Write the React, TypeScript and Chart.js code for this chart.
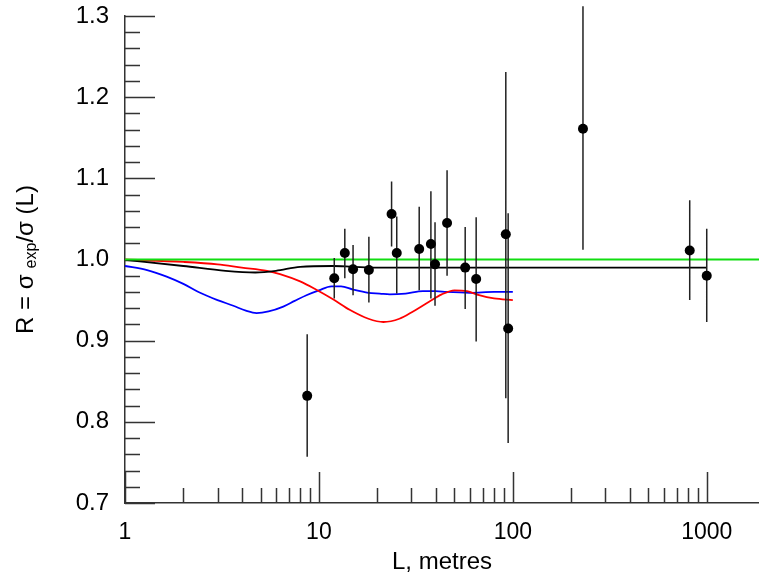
import React, { useEffect, useRef } from 'react';
import { Chart, registerables } from 'chart.js';

Chart.register(...registerables);

// ---- axis ranges / tick labels ----
const xMin = 1;
const xMax = 1860;
const yMin = 0.7;
const yMax = 1.3;
const xTickLabels = [1, 10, 100, 1000];
const yTickLabels = [0.7, 0.8, 0.9, 1.0, 1.1, 1.2, 1.3];

// ---- measured points with error bars ----
const pointX = [8.7, 12.0, 13.6, 15.0, 18.1, 23.7, 25.2, 32.9, 37.8, 39.7, 45.8, 56.8, 64.7, 92, 94.6, 230, 817, 1000];
const pointY = [0.832, 0.977, 1.008, 0.988, 0.987, 1.056, 1.008, 1.013, 1.019, 0.994, 1.045, 0.990, 0.976, 1.031, 0.915, 1.161, 1.011, 0.980];
const pointLow = [0.757, 0.952, 0.977, 0.956, 0.947, 1.016, 0.958, 0.962, 0.952, 0.943, 0.980, 0.939, 0.899, 0.829, 0.774, 1.012, 0.950, 0.923];
const pointHigh = [0.908, 1.002, 1.038, 1.018, 1.028, 1.096, 1.053, 1.065, 1.084, 1.046, 1.110, 1.040, 1.052, 1.231, 1.057, 1.312, 1.073, 1.038];

// ---- curves ----
const greenX = [1, 1860];
const greenY = [1.0, 1.0];

const blackX = [1, 2, 3.3, 4.7, 6, 8, 11.8, 15, 20, 30, 50, 100, 200, 500, 1000];
const blackY = [0.9995, 0.992, 0.986, 0.984, 0.986, 0.991, 0.992, 0.991, 0.990, 0.990, 0.990, 0.990, 0.990, 0.990, 0.990];

const redX = [1, 2, 3, 4, 5.4, 6.3, 8, 9.5, 12, 14.4, 18, 21.5, 26, 30.6, 37, 43, 50, 58, 67, 80, 100];
const redY = [1.0, 0.997, 0.994, 0.990, 0.986, 0.982, 0.973, 0.964, 0.950, 0.938, 0.927, 0.923, 0.927, 0.936, 0.948, 0.957, 0.962, 0.961, 0.956, 0.952, 0.950];

const blueX = [1, 1.3, 1.64, 2, 2.44, 3, 3.62, 4.2, 4.77, 5.5, 6.55, 7.5, 8.62, 10, 11.6, 13, 15, 18, 20.6, 23.2, 28, 34.4, 40, 45.5, 60, 80, 100];
const blueY = [0.992, 0.987, 0.979, 0.970, 0.959, 0.950, 0.943, 0.937, 0.934, 0.936, 0.942, 0.949, 0.956, 0.962, 0.967, 0.967, 0.963, 0.959, 0.958, 0.957, 0.958, 0.961, 0.961, 0.960, 0.959, 0.960, 0.960];

const xTitle = 'L, metres';
const yTitleA = 'R = σ';
const yTitleSub = 'exp';
const yTitleB = '/σ (L)';

const FONT = "'Liberation Sans', Arial, Helvetica, sans-serif";
const AXIS_COLOR = '#333';

function pts(xs: number[], ys: number[]) {
  return xs.map((x, i) => ({ x, y: ys[i] }));
}

const inwardTicks = {
  id: 'inwardTicks',
  beforeDatasetsDraw(chart: any) {
    const { ctx, chartArea, scales } = chart;
    const xs = scales.x;
    const ys = scales.y;
    ctx.save();
    ctx.strokeStyle = AXIS_COLOR;
    ctx.lineWidth = 1.5;
    ctx.beginPath();
    for (let dec = 1; dec <= 1000; dec *= 10) {
      for (let m = 1; m <= 9; m++) {
        const v = m * dec;
        if (v < xMin || v > xMax) continue;
        const px = Math.round(xs.getPixelForValue(v)) + 0.5;
        const len = m === 1 ? 31 : 15;
        ctx.moveTo(px, chartArea.bottom);
        ctx.lineTo(px, chartArea.bottom - len);
      }
    }
    for (let k = 0; k <= 30; k++) {
      const v = yMin + k * 0.02;
      const py = Math.round(ys.getPixelForValue(v)) + 0.5;
      const len = k % 5 === 0 ? 30 : 15;
      ctx.moveTo(chartArea.left, py);
      ctx.lineTo(chartArea.left + len, py);
    }
    ctx.stroke();
    ctx.restore();
  },
};

const errorBars = {
  id: 'errorBars',
  beforeDatasetDraw(chart: any, args: any) {
    if (args.index !== 0) return;
    const { ctx, scales } = chart;
    ctx.save();
    ctx.strokeStyle = '#222';
    ctx.lineWidth = 1.5;
    ctx.beginPath();
    pointX.forEach((x, i) => {
      const px = scales.x.getPixelForValue(x);
      ctx.moveTo(px, scales.y.getPixelForValue(pointLow[i]));
      ctx.lineTo(px, scales.y.getPixelForValue(pointHigh[i]));
    });
    ctx.stroke();
    ctx.restore();
  },
};

const yTitlePlugin = {
  id: 'yTitlePlugin',
  afterDraw(chart: any) {
    const { ctx, chartArea } = chart;
    const cy = (chartArea.top + chartArea.bottom) / 2;
    const mainFont = `24px ${FONT}`;
    const subFont = `16px ${FONT}`;
    ctx.save();
    ctx.font = mainFont;
    const wA = ctx.measureText(yTitleA).width;
    const wB = ctx.measureText(yTitleB).width;
    const gap = 6;
    ctx.font = subFont;
    const wS = ctx.measureText(yTitleSub).width;
    const total = wA + gap + wS + wB;
    ctx.translate(33, cy);
    ctx.rotate(-Math.PI / 2);
    ctx.fillStyle = '#000';
    ctx.textBaseline = 'alphabetic';
    ctx.textAlign = 'left';
    let x = -total / 2;
    ctx.font = mainFont;
    ctx.fillText(yTitleA, x, 0);
    x += wA + gap;
    ctx.font = subFont;
    ctx.fillText(yTitleSub, x, 3);
    x += wS;
    ctx.font = mainFont;
    ctx.fillText(yTitleB, x, 0);
    ctx.restore();
  },
};

export default function App() {
  const canvasRef = useRef<HTMLCanvasElement | null>(null);

  useEffect(() => {
    const canvas = canvasRef.current;
    if (!canvas) return;
    const lineCommon = {
      type: 'scatter' as const,
      showLine: true,
      pointRadius: 0,
      borderWidth: 1.8,
      tension: 0.4,
      cubicInterpolationMode: 'monotone' as const,
    };
    const chart = new Chart(canvas, {
      type: 'scatter',
      data: {
        datasets: [
          {
            label: 'data',
            data: pts(pointX, pointY),
            pointRadius: 5,
            pointBackgroundColor: '#000',
            pointBorderWidth: 0,
            showLine: false,
          } as any,
          { ...lineCommon, label: 'green', data: pts(greenX, greenY), borderColor: '#11dd11', borderWidth: 2 },
          { ...lineCommon, label: 'black', data: pts(blackX, blackY), borderColor: '#000' },
          { ...lineCommon, label: 'red', data: pts(redX, redY), borderColor: '#ff0000' },
          { ...lineCommon, label: 'blue', data: pts(blueX, blueY), borderColor: '#0000ff' },
        ],
      },
      options: {
        responsive: false,
        animation: false,
        layout: { autoPadding: false, padding: { top: 16, right: 0, left: 0, bottom: 0 } },
        plugins: {
          legend: { display: false },
          tooltip: { enabled: false },
        },
        scales: {
          x: {
            type: 'logarithmic',
            min: xMin,
            max: xMax,
            grid: { display: false, drawTicks: false },
            border: { display: true, color: AXIS_COLOR, width: 1.5 },
            afterBuildTicks: (scale: any) => {
              scale.ticks = xTickLabels.map((v) => ({ value: v }));
            },
            afterFit: (scale: any) => {
              scale.height = 77;
              scale.paddingLeft = 0;
              scale.paddingRight = 0;
            },
            ticks: {
              autoSkip: false,
              maxRotation: 0,
              padding: 16,
              color: '#000',
              font: { family: FONT, size: 23 },
              callback: (v: any) => String(v),
            },
            title: {
              display: true,
              text: xTitle,
              color: '#000',
              font: { family: FONT, size: 24 },
              padding: { top: 0, bottom: 3 },
            },
          },
          y: {
            type: 'linear',
            min: yMin,
            max: yMax,
            grid: { display: false, drawTicks: false },
            border: { display: true, color: AXIS_COLOR, width: 1.5 },
            afterBuildTicks: (scale: any) => {
              scale.ticks = yTickLabels.map((v) => ({ value: v }));
            },
            afterFit: (scale: any) => {
              scale.width = 125;
              scale.paddingTop = 0;
              scale.paddingBottom = 0;
            },
            ticks: {
              padding: 16,
              color: '#000',
              font: { family: FONT, size: 24 },
              callback: (v: any) => Number(v).toFixed(1),
            },
          },
        },
      },
      plugins: [inwardTicks, errorBars, yTitlePlugin],
    });
    return () => chart.destroy();
  }, []);

  return (
    <div style={{ position: 'absolute', left: 0, top: 0, width: 759, height: 580, background: '#fff' }}>
      <canvas ref={canvasRef} width={759} height={580} style={{ display: 'block' }} />
    </div>
  );
}
